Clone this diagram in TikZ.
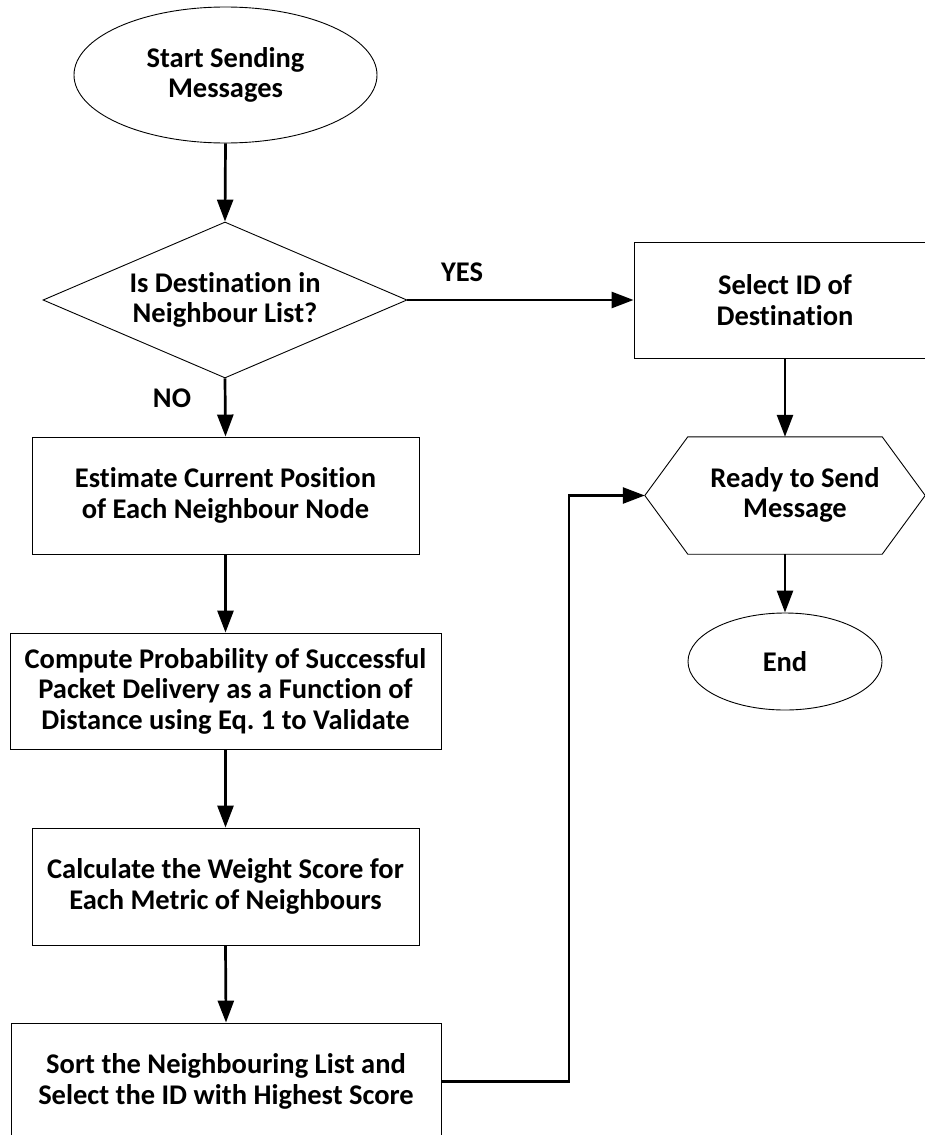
\documentclass[tikz,border=0pt]{standalone}
\usepackage{fontspec}
\setmainfont{Carlito}[Ligatures=NoCommon]
\usetikzlibrary{arrows.meta,shapes.geometric,calc}
\frenchspacing
\begin{document}
\begin{tikzpicture}[x=1pt,y=-1pt,
  every node/.style={font=\fontsize{28.5}{30.5}\selectfont\bfseries, align=center, inner sep=0pt, text=black},
  shp/.style={draw=black, line width=0.9pt},
  procbox/.style={shp, rectangle, minimum width=#1, minimum height=117pt},
  oval/.style={shp, ellipse},
  conn/.style={line width=2.7pt, -{Triangle[length=22pt,width=16pt]}},
  lbl/.style={font=\fontsize{28.5}{30.5}\selectfont\bfseries}
]
\fill[white] (0,0) rectangle (925,1135);
\useasboundingbox (0,0) rectangle (925,1135);

% left column
\node[oval, minimum width=303pt, minimum height=136pt] (start) at (225.5,75) {Start Sending\\Messages};
\node[shp, diamond, aspect=2.33, minimum width=364pt, minimum height=156pt] (dec) at (225,300) {Is Destination in\\Neighbour List?};
\node[procbox=387pt] (est) at (225.5,495.5) {Estimate Current Position\\of Each Neighbour Node};
\node[procbox=431pt, minimum height=116pt] (comp) at (225.5,691) {Compute Probability of Successful\\Packet Delivery as a Function of\\Distance using Eq. 1 to Validate};
\node[procbox=387pt] (calc) at (225.5,886.5) {Calculate the Weight Score for\\Each Metric of Neighbours};
\node[procbox=430pt] (sort) at (226,1081.5) {Sort the Neighbouring List and\\Select the ID with Highest Score};

% right column
\node[procbox=302pt, minimum height=116pt] (sel) at (785,300) {Select ID of\\Destination};
\node[minimum width=280pt, minimum height=117pt] (ready) at (785,495.5) {};
\node (readytxt) at (795,495) {Ready to Send\\Message};
\draw[shp] (ready.west) -- ($(ready.north west)+(43,0)$) -- ($(ready.north east)+(-43,0)$) -- (ready.east) -- ($(ready.south east)+(-43,0)$) -- ($(ready.south west)+(43,0)$) -- cycle;
\node[oval, minimum width=194pt, minimum height=97pt] (end) at (785,661.5) {End};

% labels
\node[lbl] (yes) at (462,272) {YES};
\node[lbl] (no) at (172,398) {NO};

% connectors
\coordinate (bend) at (569,0);
\draw[conn] (start.south) -- (dec.north);
\draw[conn] (dec.east) -- (sel.west);
\draw[conn] (dec.south) -- (est.north);
\draw[conn] (est.south) -- (comp.north);
\draw[conn] (comp.south) -- (calc.north);
\draw[conn] (calc.south) -- (sort.north);
\draw[conn] (sel.south) -- (ready.north);
\draw[conn] (ready.south) -- (end.north);
\draw[conn] (sort.east) -- (sort.east -| bend) -- (bend |- ready.west) -- (ready.west);
\end{tikzpicture}
\end{document}
